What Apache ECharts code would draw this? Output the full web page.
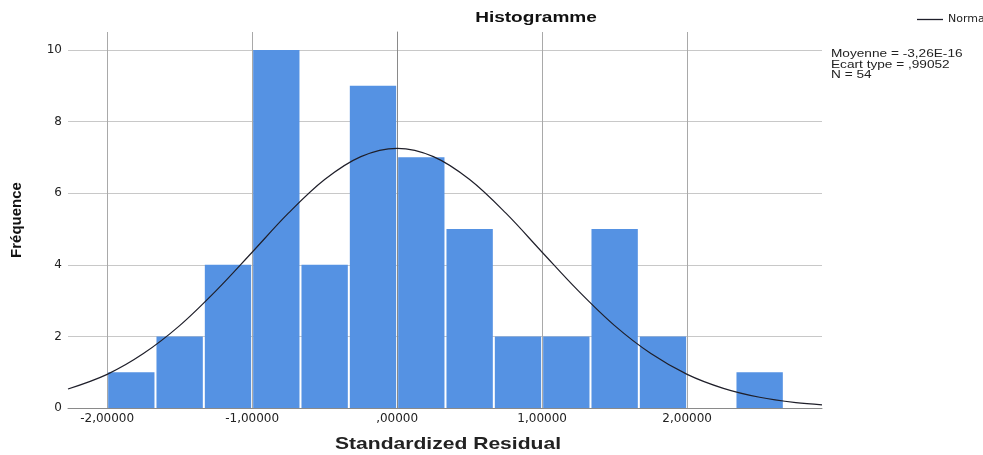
<!DOCTYPE html>
<html><head><meta charset="utf-8">
<script src="https://cdn.jsdelivr.net/npm/echarts@6/dist/echarts.min.js"></script>
<style>html,body{margin:0;padding:0;background:#fff}#c{width:983px;height:455px}</style>
</head><body><div id="c"></div>
<script>
// Histogram bins (edges) and frequencies
const binEdges = [-2.0, -1.6667, -1.3333, -1.0, -0.6667, -0.3333, 0.0, 0.3333, 0.6667, 1.0, 1.3333, 1.6667, 2.0, 2.3333, 2.6667];
const counts = [1, 2, 4, 10, 4, 9, 7, 5, 2, 2, 5, 2, 0, 1];
// Normal curve
const normalX = [-2.27, -2.0, -1.75, -1.5, -1.25, -1.0, -0.75, -0.5, -0.25, 0.0, 0.25, 0.5, 0.75, 1.0, 1.25, 1.5, 1.75, 2.0, 2.25, 2.5, 2.75, 2.93];
const normalY = [0.53, 0.94, 1.52, 2.30, 3.27, 4.35, 5.44, 6.38, 7.02, 7.25, 7.02, 6.38, 5.44, 4.35, 3.27, 2.30, 1.52, 0.94, 0.55, 0.30, 0.15, 0.09];
// Tick labels
const xTicks = [-2, -1, 0, 1, 2];
const yTicks = [0, 2, 4, 6, 8, 10];
// Texts
const titleText = 'Histogramme';
const xName = 'Standardized Residual';
const yName = 'Fréquence';
const legendName = 'Normal';
const statsLines = ['Moyenne = -3,26E-16', 'Ecart type = ,99052', 'N = 54'];

const barData = counts.map((c, i) => [binEdges[i], binEdges[i + 1], c]);
const lineData = normalX.map((x, i) => [x, normalY[i]]);

function fmtX(v) {
  let s = Math.abs(v).toFixed(5).replace('.', ',');
  if (s.startsWith('0,')) s = s.slice(1);
  return (v < 0 ? '-' : '') + s;
}

const chart = echarts.init(document.getElementById('c'), null, { renderer: 'canvas' });
chart.setOption({
  backgroundColor: '#fff',
  animation: false,
  grid: { left: 68, right: 161, top: 32, bottom: 47 },
  legend: {
    data: [{ name: legendName, icon: 'rect' }], left: 912, top: 9, itemWidth: 26, itemHeight: 1.3, itemGap: 5,
    itemStyle: { color: '#1f1f2a' },
    textStyle: { fontFamily: 'DejaVu Sans', fontSize: 11, color: '#222' }
  },
  xAxis: {
    type: 'value', min: -2.27, max: 2.93,
    axisLine: { show: true, onZero: false, lineStyle: { color: '#8a8a8a', width: 1 } },
    axisTick: { show: false, customValues: xTicks },
    axisLabel: { customValues: xTicks, formatter: fmtX, margin: 5, color: '#222', fontFamily: 'DejaVu Sans', fontSize: 12 },
    splitLine: { show: true, lineStyle: { color: '#a9a9a9', width: 1 } }
  },
  yAxis: {
    type: 'value', min: 0, max: 10.5, interval: 2,
    name: yName, nameLocation: 'middle', nameGap: 44,
    nameTextStyle: { fontFamily: 'Liberation Sans', fontWeight: 'bold', fontSize: 15, color: '#111' },
    axisLine: { show: true, lineStyle: { color: '#8a8a8a', width: 1 } },
    axisTick: { show: false, customValues: yTicks },
    axisLabel: { customValues: yTicks, margin: 6, color: '#222', fontFamily: 'DejaVu Sans', fontSize: 12 },
    splitLine: { show: true, lineStyle: { color: '#c8c8c8', width: 1 } }
  },
  series: [
    {
      type: 'custom', name: 'bars', z: 2,
      data: barData,
      encode: { x: [0, 1], y: 2 },
      renderItem: function (params, api) {
        const p0 = api.coord([api.value(0), api.value(2)]);
        const p1 = api.coord([api.value(1), 0]);
        return {
          type: 'rect',
          shape: { x: p0[0] + 1, y: p0[1], width: p1[0] - p0[0] - 2, height: p1[1] - p0[1] },
          style: { fill: '#5592e3' }
        };
      }
    },
    {
      type: 'line', name: legendName, z: 3, data: lineData, smooth: 0.35,
      symbol: 'none', lineStyle: { color: '#1f1f2a', width: 1.2 }, itemStyle: { color: '#1f1f2a' }
    }
  ],
  graphic: [
    { type: 'text', x: 536, y: 18, scaleX: 1.27, silent: true,
      style: { text: titleText, textAlign: 'center', textVerticalAlign: 'middle', fill: '#111',
        font: 'bold 15px "Liberation Sans", Arial, sans-serif' } },
    { type: 'text', x: 448, y: 444, scaleX: 1.24, silent: true,
      style: { text: xName, textAlign: 'center', textVerticalAlign: 'middle', fill: '#222',
        font: 'bold 17px "Liberation Sans", Arial, sans-serif' } },
    { type: 'text', x: 831, y: 49, scaleX: 1.24, silent: true,
      style: { text: statsLines.join('\n'), textAlign: 'left', textVerticalAlign: 'top', fill: '#222', lineHeight: 10.5,
        font: '11px "Liberation Sans", Arial, sans-serif' } }
  ]
});
</script>
</body></html>
